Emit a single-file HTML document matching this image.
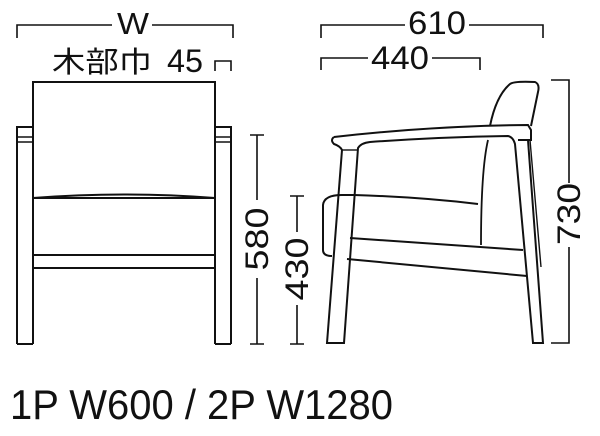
<!DOCTYPE html>
<html><head><meta charset="utf-8"><style>html,body{margin:0;padding:0;background:#fff}svg{display:block}</style></head>
<body>
<svg width="600" height="436" viewBox="0 0 600 436" xmlns="http://www.w3.org/2000/svg" font-family="'Liberation Sans','Noto Sans CJK JP',sans-serif" fill="none" stroke="#111" stroke-width="2">
<!-- W dimension -->
<path d="M17 38V25H112M152 25H233V38" stroke-width="1.6"/>
<text x="133" y="34" font-size="31" fill="#111" stroke="none" text-anchor="middle" textLength="32" lengthAdjust="spacingAndGlyphs">W</text>
<text x="52" y="72" font-size="29" fill="#111" stroke="none" textLength="100" lengthAdjust="spacingAndGlyphs">木部巾</text>
<text x="167" y="72" font-size="32" fill="#111" stroke="none" textLength="36" lengthAdjust="spacingAndGlyphs">45</text>
<path d="M215 71V61H231V71" stroke-width="1.6"/>
<!-- front chair -->
<path d="M33 344V82H215V344"/>
<path d="M17 344V127H33M215 127H231V344"/>
<path d="M17 344H33M215 344H231"/>
<path d="M17 137H33M17 142H33M215 137H231M215 142H231" stroke-width="1.4"/>
<path d="M33 198Q124 191 215 198M33 198H215"/>
<path d="M33 255H215M33 268H215"/>
<!-- 580 -->
<path d="M250 135H264M257 135V200M257 278V344M250 344H264" stroke-width="1.6"/>
<text transform="translate(268 239) rotate(-90)" font-size="32" fill="#111" stroke="none" text-anchor="middle" textLength="63" lengthAdjust="spacingAndGlyphs">580</text>
<!-- 430 -->
<path d="M290 196H304M297 196V232M297 305V344M290 344H304" stroke-width="1.6"/>
<text transform="translate(308 269) rotate(-90)" font-size="32" fill="#111" stroke="none" text-anchor="middle" textLength="63" lengthAdjust="spacingAndGlyphs">430</text>
<!-- 610 / 440 -->
<path d="M321 38V25H405M469 25H543V38" stroke-width="1.6"/>
<text x="437" y="34" font-size="32" fill="#111" stroke="none" text-anchor="middle" textLength="58" lengthAdjust="spacingAndGlyphs">610</text>
<path d="M321 70V58H368M432 58H480V70" stroke-width="1.6"/>
<text x="400" y="69" font-size="32" fill="#111" stroke="none" text-anchor="middle" textLength="58" lengthAdjust="spacingAndGlyphs">440</text>
<!-- 730 -->
<path d="M551 80H569V183M569 247V343H551" stroke-width="1.6"/>
<text transform="translate(580 214) rotate(-90)" font-size="32" fill="#111" stroke="none" text-anchor="middle" textLength="62" lengthAdjust="spacingAndGlyphs">730</text>
<!-- side chair -->
<path d="M490 126Q496 96 510 84Q514 81 535 82Q540 84 538 92L531 126"/>
<path d="M334 137Q430 126 528 125L531 130V140H518"/>
<path d="M334 137Q330 140 334 144Q340 146 342 150L327 343H344L358 148Q361 143 370 142Q440 137 508 136Q513 137 515 144L533 343H543L528 140"/>
<path d="M342 150H358" stroke-width="1.4"/>
<path d="M488 140Q481 170 481 245" stroke-width="1.8"/>
<path d="M354 195Q420 197 478 204"/>
<path d="M354 195L342 195Q324 195 323 205V250Q323 256 332 256"/>
<path d="M350 238L523 250M347 259L527 276"/>
<path d="M530 140L541 267" stroke-width="1.4"/>
<!-- bottom text -->
<text x="10" y="419" font-size="42" fill="#111" stroke="none" textLength="383" lengthAdjust="spacingAndGlyphs">1P W600 / 2P W1280</text>
</svg>
</body></html>
